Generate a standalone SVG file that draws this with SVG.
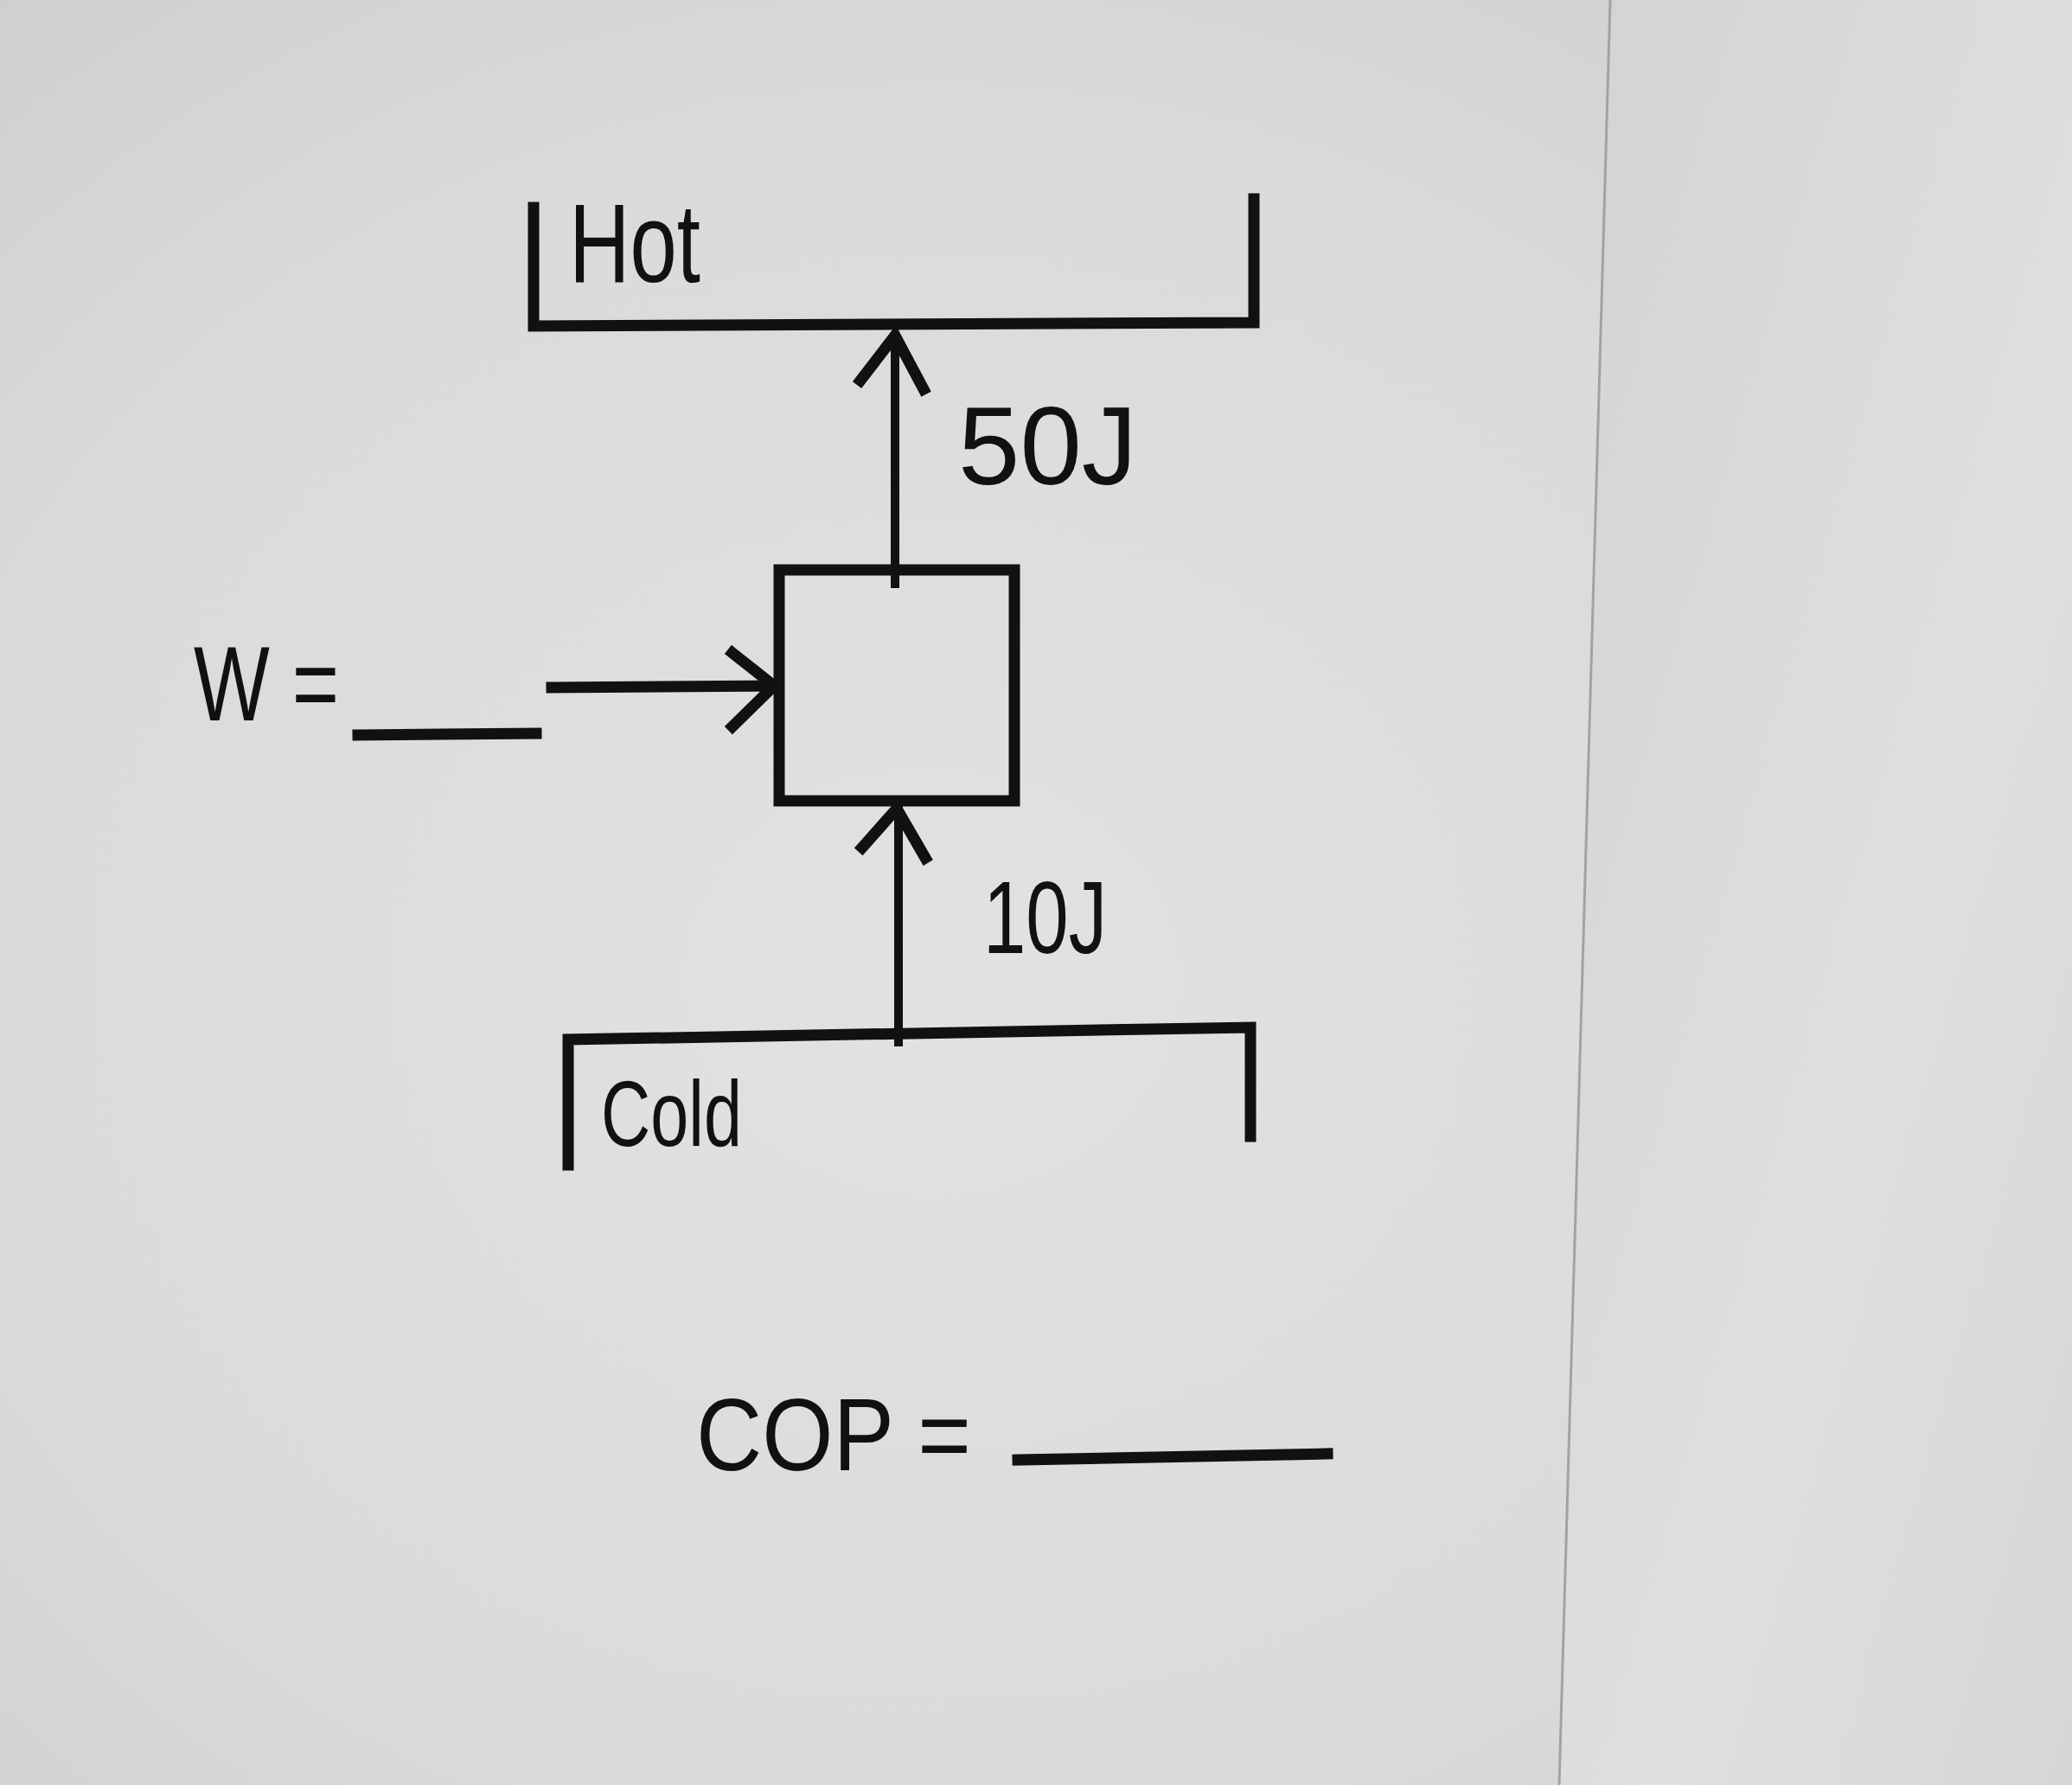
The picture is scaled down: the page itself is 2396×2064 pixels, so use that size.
<svg xmlns="http://www.w3.org/2000/svg" width="2396" height="2064" viewBox="0 0 2396 2064">
  <defs>
    <radialGradient id="bg" cx="0.45" cy="0.55" r="0.8">
      <stop offset="0" stop-color="#e2e3e1"/>
      <stop offset="0.6" stop-color="#dadbd9"/>
      <stop offset="1" stop-color="#cbcccA"/>
    </radialGradient>
    <linearGradient id="bgR" x1="0" y1="0" x2="1" y2="1">
      <stop offset="0" stop-color="#d3d4d2"/>
      <stop offset="0.6" stop-color="#dfe0de"/>
      <stop offset="1" stop-color="#d6d7d4"/>
    </linearGradient>
  </defs>
  <style>
    .ink { fill: none; stroke: #111; stroke-width: 13; stroke-linecap: square; stroke-linejoin: miter; }
    .thin { fill: none; stroke: #111; stroke-width: 10; stroke-linecap: butt; }
    .lbl { font-family: "Liberation Sans Narrow", "Liberation Sans", "DejaVu Sans", sans-serif; fill: #111; }
  </style>
  <rect x="0" y="0" width="2396" height="2064" fill="url(#bg)"/>
  <polygon points="1862,0 2396,0 2396,2064 1803,2064" fill="url(#bgR)"/>
  <line x1="1862" y1="0" x2="1803" y2="2064" stroke="#9ea3a8" stroke-width="3"/>

  <g id="hot-reservoir">
    <path class="ink" d="M617,240 L617,377 L1450,373 L1450,230"/>
    <text class="lbl" x="658" y="326" font-size="130" textLength="152" lengthAdjust="spacingAndGlyphs">Hot</text>
  </g>

  <g id="engine">
    <rect class="ink" x="901" y="659" width="272" height="267"/>
  </g>

  <g id="cold-reservoir">
    <path class="ink" d="M657,1347 L657,1202 L1446,1188 L1446,1314"/>
    <text class="lbl" x="695" y="1325" font-size="108" textLength="163" lengthAdjust="spacingAndGlyphs">Cold</text>
  </g>

  <g id="work-label">
    <text class="lbl" x="224" y="833" font-size="122" textLength="168" lengthAdjust="spacingAndGlyphs">W =</text>
    <line class="ink" x1="414" y1="850" x2="620" y2="848"/>
  </g>

  <g id="cop-label">
    <text class="lbl" x="805" y="1700" font-size="118" textLength="318" lengthAdjust="spacingAndGlyphs">COP =</text>
    <line class="ink" x1="1177" y1="1688" x2="1535" y2="1681"/>
  </g>

  <g id="connectors">
    <g id="q-hot">
      <line class="thin" x1="1035" y1="680" x2="1035" y2="385"/>
      <path class="ink" d="M995,440 L1035,388 L1068,450"/>
      <text class="lbl" x="1108" y="560" font-size="128" textLength="207" lengthAdjust="spacingAndGlyphs">50J</text>
    </g>
    <g id="q-cold">
      <line class="thin" x1="1039" y1="1210" x2="1039" y2="932"/>
      <path class="ink" d="M997,980 L1037,935 L1070,992"/>
      <text class="lbl" x="1137" y="1102" font-size="118" textLength="143" lengthAdjust="spacingAndGlyphs">10J</text>
    </g>
    <g id="work">
      <line class="ink" x1="638" y1="795" x2="895" y2="793"/>
      <path class="ink" d="M847,755 L895,793 L847,840"/>
    </g>
  </g>
</svg>
